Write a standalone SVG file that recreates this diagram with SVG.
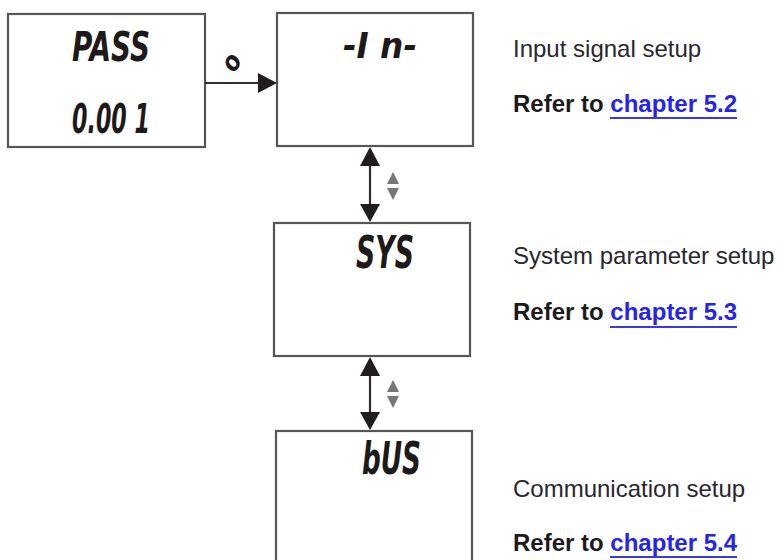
<svg xmlns="http://www.w3.org/2000/svg" width="778" height="560" viewBox="0 0 778 560">
<defs>
<style>
.box{fill:#fff;stroke:#5a5555;stroke-width:2.2}
.lcd{font-family:"DejaVu Sans Condensed","DejaVu Sans",sans-serif;font-weight:bold;font-style:italic;fill:#1e1a1a}
.line{stroke:#332c2c;stroke-width:2.2;fill:none}
.head{fill:#231c1c}
.small{fill:#767676}
.desc{font-family:"Liberation Sans",Arial,sans-serif;font-size:24px;fill:#2a2630}
.ref{font-family:"Liberation Sans",Arial,sans-serif;font-size:24px;font-weight:bold;fill:#1c1a1c}
.link{fill:#2424f0}
.ul{stroke:#3838f0;stroke-width:2}
</style>
</defs>
<rect width="778" height="560" fill="#fff"/>
<g id="node-pass">
<rect class="box" x="8" y="14" width="197" height="133"/>
<text class="lcd" x="72" y="61" font-size="40" textLength="78" lengthAdjust="spacingAndGlyphs">PASS</text>
<text class="lcd" x="72" y="133" font-size="40" textLength="78" lengthAdjust="spacingAndGlyphs">0.00 1</text>
</g>
<g id="node-in">
<rect class="box" x="277" y="13" width="196" height="133"/>
<text class="lcd" x="343" y="58" font-size="36" textLength="74" lengthAdjust="spacingAndGlyphs">-I n-</text>
</g>
<g id="node-sys">
<rect class="box" x="274" y="223" width="196" height="133"/>
<text class="lcd" x="356" y="268" font-size="44" textLength="58" lengthAdjust="spacingAndGlyphs">SYS</text>
</g>
<g id="node-bus">
<rect class="box" x="276" y="431" width="196" height="140"/>
<text class="lcd" x="362" y="474" font-size="44" textLength="59" lengthAdjust="spacingAndGlyphs">bUS</text>
</g>
<g id="connectors">
<line class="line" x1="205" y1="83" x2="262" y2="83"/>
<polygon class="head" points="258,73 277,83 258,93"/>
<text class="lcd" x="0" y="0" font-size="26" transform="translate(231,62) rotate(-60)" text-anchor="middle" dominant-baseline="central">o</text>
<line class="line" x1="370" y1="160" x2="370" y2="210"/>
<polygon class="head" points="370,147 360,166 380,166"/>
<polygon class="head" points="370,222 360,204 380,204"/>
<polygon class="small" points="393,172 387,184 399,184"/>
<polygon class="small" points="393,200 387,188 399,188"/>
<line class="line" x1="370" y1="370" x2="370" y2="418"/>
<polygon class="head" points="370,357 360,376 380,376"/>
<polygon class="head" points="370,430 360,412 380,412"/>
<polygon class="small" points="393,380 387,392 399,392"/>
<polygon class="small" points="393,408 387,396 399,396"/>
</g>
<g id="labels">
<text class="desc" x="513" y="57">Input signal setup</text>
<text class="ref" x="513" y="112">Refer to <tspan class="link">chapter 5.2</tspan></text>
<line class="ul" x1="610" y1="118" x2="737" y2="118"/>
<text class="desc" x="513" y="264">System parameter setup</text>
<text class="ref" x="513" y="320">Refer to <tspan class="link">chapter 5.3</tspan></text>
<line class="ul" x1="610" y1="327" x2="737" y2="327"/>
<text class="desc" x="513" y="497">Communication setup</text>
<text class="ref" x="513" y="551">Refer to <tspan class="link">chapter 5.4</tspan></text>
<line class="ul" x1="610" y1="557" x2="737" y2="557"/>
</g>
</svg>
